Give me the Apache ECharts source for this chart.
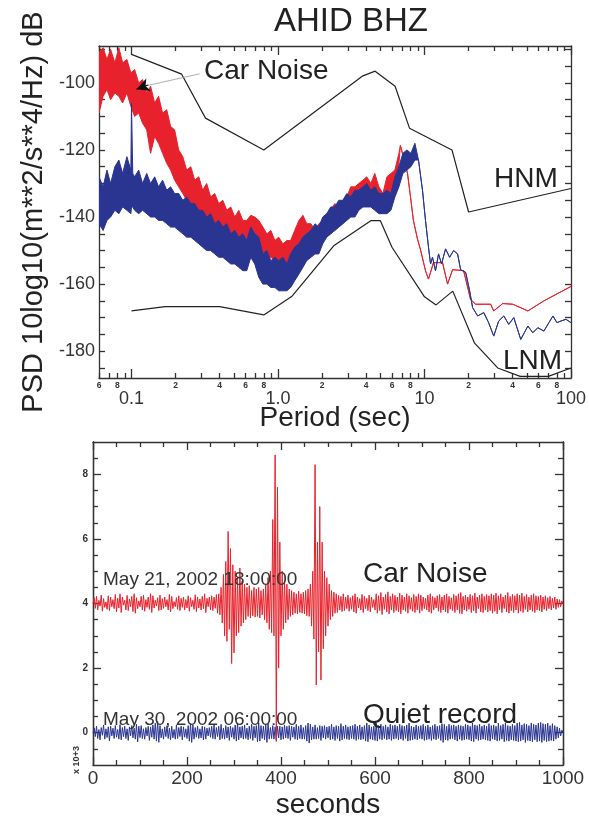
<!DOCTYPE html>
<html><head><meta charset="utf-8">
<script src="https://cdn.jsdelivr.net/npm/echarts@6/dist/echarts.min.js"></script>
<style>html,body{margin:0;padding:0;background:#fff}#c{width:589px;height:820px}</style>
</head><body><div id="c"></div>
<script>
// ---------- PSD panel data (period in s, PSD in dB) ----------
const hnmPeriod = [0.1, 0.22, 0.32, 0.8, 3.8, 4.6, 6.3, 7.9, 15.4, 20, 100];
const hnmDb = [-91.5, -97.4, -110.5, -120, -97.9, -96.5, -101, -113.5, -120, -138.5, -131.5];
const lnmPeriod = [0.1, 0.17, 0.4, 0.8, 1.24, 2.4, 4.3, 5.0, 6.0, 10, 12, 15.6, 21.9, 31.6, 45, 70, 100];
const lnmDb = [-168, -166.7, -166.7, -169.2, -163.7, -148.6, -141.1, -141.1, -149, -163.8, -166.2, -162.1, -177.5, -185, -187.5, -187.5, -185];

// Car noise (red): noisy band (upper / lower edge) then a single line
const redBandPeriod = [0.060,0.064,0.068,0.072,0.077,0.082,0.087,0.093,0.099,0.105,
  0.112,0.119,0.127,0.135,0.144,0.153,0.163,0.174,0.185,0.197,
  0.21,0.224,0.238,0.254,0.27,0.288,0.306,0.326,0.347,0.37,
  0.394,0.42,0.447,0.476,0.507,0.54,0.575,0.612,0.652,0.694,
  0.74,0.788,0.839,0.894,0.952,1.01,1.08,1.15,1.22,1.3,
  1.39,1.48,1.57,1.68,1.79,1.9,2.02,2.15,2.29,2.44,
  2.6,2.77,2.95,3.14,3.35,3.56,3.8,4.04,4.3,4.58,
  4.88,5.2,5.54,5.9,6.28,6.69];
const redBandHi = [-91,-89.5,-93,-90,-94,-89.5,-94,-93,-97,-96,
  -100,-99,-103,-101,-106,-104,-109,-108,-113,-114,
  -120,-122,-126,-125,-129,-128,-132,-130,-134,-133,
  -136,-135,-138,-137,-140,-138,-141,-141,-139.5,-140,
  -141,-143,-145,-144,-147,-146,-148,-147,-147,-144,
  -141,-139.5,-142,-142,-144,-142,-141,-139,-138,-136,
  -137,-135,-134,-131,-131,-130,-129,-128,-130,-127,
  -131,-133,-128,-127,-126,-121];
const redBandLo = [-109,-104,-102,-105,-103,-104,-106,-103,-107,-110,
  -109,-112,-114,-121,-116,-118,-121,-124,-126,-129,
  -131,-133,-135,-136,-137,-139,-140,-141,-142,-144,
  -145,-145,-146,-147,-147,-148,-148,-149,-148,-148,
  -149,-151,-152,-152,-153,-153,-154,-154,-153,-152,
  -150,-148,-149,-149,-149,-148,-147,-146,-145,-144,
  -143,-142,-140,-139,-138,-137,-136,-136,-136,-135,
  -136,-137,-134,-133,-131,-124];
const redTailPeriod = [6.85,7.17,7.66,8.0,8.4,8.95,9.4,10.16,10.65,11.52,13.28,14.37,15.55,18.5,20.65,22.35,28.3,29.7,34.2,40.1,50.8,65.3,100];
const redTailDb = [-118.7,-122,-127,-133.5,-141,-146.5,-149.8,-156,-158.5,-153.6,-153.6,-160,-155.7,-156,-164.6,-166,-166,-168,-165.8,-166,-168,-165,-160.7];

// Quiet record (blue)
const blueBandPeriod = [0.060,0.064,0.068,0.072,0.077,0.082,0.087,0.093,0.099,0.100,0.102,0.105,
  0.112,0.119,0.127,0.135,0.144,0.153,0.163,0.174,0.185,0.197,
  0.21,0.224,0.238,0.254,0.27,0.288,0.306,0.326,0.347,0.37,
  0.394,0.42,0.447,0.476,0.507,0.54,0.575,0.612,0.652,0.694,
  0.74,0.788,0.839,0.894,0.952,1.01,1.08,1.15,1.22,1.3,
  1.39,1.48,1.57,1.68,1.79,1.9,2.02,2.15,2.29,2.44,
  2.6,2.77,2.95,3.14,3.35,3.56,3.8,4.04,4.3,4.58,
  4.88,5.2,5.54,5.9,6.28,6.69,7.12,7.59,8.08,8.6];
const blueBandHi = [-128,-131,-126,-130,-125,-123,-127,-122,-126,-106,-127,-128,
  -126,-130,-127,-130,-128,-131,-129,-132,-131,-133,
  -133,-135,-134,-136,-136,-138,-138,-140,-139,-142,
  -141,-143,-142,-145,-144,-146,-145,-147,-143,-145,
  -146,-151,-150,-153,-152,-153,-152,-154,-151,-149,
  -148,-146,-145,-144,-142,-143,-140,-139,-137,-137,
  -135,-135,-133,-134,-132,-132,-131,-130,-132,-131,
  -133,-133,-132,-133,-128,-125,-121,-120,-121,-118];
const blueBandLo = [-142,-144,-141,-140,-138,-139,-137,-138,-139,-137,-137,-138,
  -139,-138,-139,-140,-140,-141,-141,-142,-143,-143,
  -144,-145,-146,-146,-147,-148,-149,-150,-150,-151,
  -152,-152,-153,-154,-154,-155,-156,-156,-152,-154,
  -158,-160,-160,-161,-161,-162,-162,-162,-161,-159,
  -157,-155,-153,-152,-151,-151,-148,-146,-145,-144,
  -143,-142,-141,-140,-140,-138,-137,-137,-137,-138,
  -139,-139,-139,-138,-134,-131,-127,-126,-125,-123];
const blueTailPeriod = [9.1,9.69,10.16,10.65,11.0,11.34,11.89,12.47,13.07,13.93,14.84,15.8,16.83,17.64,19.1,20.33,21.3,23.07,25.4,27.4,29.7,32.1,34.8,37.6,40.7,45.4,50.8,54.9,59.4,65.3,70.7,75.3,80.2,85.4,92.4,100];
const blueTailDb = [-123,-132,-141,-149,-154,-152,-156,-151,-154,-149.5,-152,-150,-151,-155.7,-156.5,-162,-167,-169.5,-168.5,-171.5,-175.5,-171,-169.5,-172,-170,-176.5,-172.5,-174.5,-173,-174,-171.5,-169.5,-171.5,-171,-170.5,-171.5];

// Period axis ticks / labels
const periodMajor = [0.1, 1, 10, 100];
const periodMajorLabels = ['0.1', '1.0', '10', '100'];
const periodMinorLabeled = [0.06,0.08,0.2,0.4,0.6,0.8,2,4,6,8,20,40,60,80];
const periodMinorTicks = [0.06,0.07,0.08,0.09,0.2,0.3,0.4,0.5,0.6,0.7,0.8,0.9,2,3,4,5,6,7,8,9,20,30,40,50,60,70,80,90];
const psdLabels = [-180,-160,-140,-120,-100];
const psdTicks = [-185,-180,-175,-170,-165,-160,-155,-150,-145,-140,-135,-130,-125,-120,-115,-110,-105,-100,-95,-90];

// ---------- Seismogram panel (x 10^3 counts), one sample every 2.5 s ----------
const sampleStepSec = 2.5;
const carNoise = [
  4.0,4.18,3.85,4.22,3.8,4.1,3.92,4.26,3.76,4.15,3.88,4.05,3.82,4.24,3.78,4.2,3.9,4.12,3.84,4.28,
  3.74,4.16,3.86,4.3,3.72,4.2,3.95,4.1,3.8,4.25,3.78,4.14,3.9,4.22,3.75,4.3,3.7,4.18,3.84,4.08,
  3.9,4.22,3.8,4.26,3.76,4.12,3.88,4.2,3.82,4.3,3.72,4.24,3.86,4.1,3.92,4.18,3.78,4.26,3.8,4.15,
  3.85,4.2,3.9,4.12,3.8,4.28,3.74,4.22,3.84,4.06,3.9,4.18,3.82,4.24,3.78,4.16,3.88,4.2,3.8,4.12,
  3.86,4.24,3.76,4.18,3.9,4.1,3.82,4.27,3.75,4.2,3.86,4.14,3.8,4.22,3.84,4.3,3.72,4.16,3.9,4.2,
  3.8,4.24,3.78,4.2,3.85,4.28,3.7,4.3,3.65,4.5,3.4,4.9,3.0,5.3,2.83,6.23,3.2,5.7,2.14,5.2,
  2.47,5.0,3.0,4.8,3.1,5.1,3.3,4.7,3.4,4.6,3.5,4.5,3.6,4.55,3.55,4.4,3.62,4.5,3.58,4.45,
  3.6,4.5,3.55,4.4,3.65,4.45,3.5,4.6,3.4,4.8,3.2,5.0,3.1,6.6,3.0,8.6,-0.27,7.6,2.0,5.9,
  3.0,5.0,3.2,4.7,3.4,4.6,3.5,4.45,3.6,4.4,3.65,4.35,3.7,4.3,3.68,4.38,3.72,4.3,3.7,4.35,
  3.68,4.4,3.62,4.45,3.6,4.6,3.3,5.0,2.9,8.3,1.48,5.9,2.5,7.0,1.63,5.9,2.6,5.0,3.0,4.8,
  3.3,4.6,3.5,4.4,3.6,4.35,3.7,4.3,3.72,4.25,3.8,4.22,3.75,4.3,3.78,4.2,3.84,4.26,3.76,4.18,
  3.82,4.24,3.74,4.3,3.7,4.2,3.86,4.15,3.8,4.28,3.72,4.22,3.84,4.16,3.78,4.26,3.74,4.2,3.88,4.12,
  3.8,4.3,3.7,4.24,3.78,4.34,3.66,4.2,3.82,4.28,3.74,4.36,3.68,4.22,3.8,4.3,3.72,4.25,3.78,4.2,
  3.74,4.32,3.68,4.26,3.8,4.2,3.76,4.3,3.7,4.24,3.82,4.18,3.76,4.28,3.72,4.22,3.8,4.3,3.7,4.26,
  3.78,4.2,3.84,4.16,3.8,4.26,3.74,4.3,3.7,4.22,3.8,4.18,3.86,4.24,3.76,4.28,3.72,4.2,3.8,4.26,
  3.74,4.3,3.7,4.22,3.82,4.18,3.78,4.28,3.72,4.24,3.8,4.3,3.7,4.34,3.68,4.22,3.8,4.26,3.76,4.2,
  3.82,4.28,3.72,4.24,3.78,4.32,3.7,4.2,3.84,4.26,3.74,4.3,3.72,4.22,3.8,4.28,3.74,4.24,3.78,4.3,
  3.7,4.26,3.76,4.32,3.68,4.24,3.8,4.3,3.72,4.2,3.84,4.26,3.74,4.34,3.7,4.22,3.78,4.28,3.72,4.24,
  3.8,4.3,3.7,4.26,3.76,4.32,3.72,4.22,3.82,4.28,3.74,4.2,3.8,4.26,3.76,4.3,3.72,4.24,3.8,4.22,
  3.78,4.26,3.74,4.2,3.82,4.24,3.78,4.18,3.84,4.22,3.8,4.16,3.86,4.2,3.82,4.14,3.88,4.12,3.9,4.08,
  4.0];
const quietRecord = [
  0.0,0.15,-0.12,0.2,-0.18,0.1,-0.22,0.16,-0.08,0.24,-0.2,0.12,-0.15,0.18,-0.25,0.2,-0.1,0.14,-0.18,0.22,
  -0.14,0.1,-0.2,0.25,-0.22,0.16,-0.12,0.2,-0.18,0.12,-0.24,0.18,-0.1,0.22,-0.16,0.14,-0.2,0.26,-0.28,0.2,
  -0.15,0.22,-0.18,0.12,-0.2,0.16,-0.1,0.2,-0.24,0.18,-0.14,0.24,-0.2,0.3,-0.26,0.35,-0.3,0.22,-0.16,0.12,
  -0.2,0.18,-0.12,0.22,-0.18,0.14,-0.22,0.2,-0.16,0.1,-0.2,0.24,-0.18,0.16,-0.12,0.2,-0.22,0.18,-0.14,0.12,
  -0.18,0.22,-0.26,0.28,-0.3,0.24,-0.2,0.16,-0.14,0.2,-0.18,0.12,-0.16,0.2,-0.22,0.18,-0.2,0.14,-0.1,0.16,
  -0.14,0.2,-0.18,0.24,-0.2,0.16,-0.12,0.2,-0.22,0.26,-0.18,0.14,-0.2,0.22,-0.16,0.18,-0.24,0.2,-0.14,0.16,
  -0.2,0.24,-0.26,0.3,-0.22,0.18,-0.16,0.2,-0.2,0.24,-0.18,0.14,-0.22,0.2,-0.18,0.26,-0.24,0.2,-0.16,0.22,
  -0.28,0.32,-0.26,0.22,-0.18,0.2,-0.22,0.26,-0.3,0.28,-0.2,0.16,-0.18,0.22,-0.2,0.18,-0.24,0.2,-0.16,0.2,
  -0.22,0.18,-0.2,0.24,-0.16,0.2,-0.18,0.22,-0.24,0.2,-0.14,0.18,-0.2,0.26,-0.22,0.2,-0.18,0.24,-0.2,0.16,
  -0.2,0.22,-0.26,0.3,-0.32,0.26,-0.22,0.18,-0.2,0.24,-0.2,0.16,-0.18,0.22,-0.24,0.2,-0.16,0.22,-0.2,0.18,
  -0.16,0.2,-0.22,0.26,-0.2,0.18,-0.24,0.22,-0.18,0.2,-0.26,0.28,-0.22,0.2,-0.18,0.24,-0.2,0.18,-0.22,0.2,
  -0.18,0.22,-0.2,0.26,-0.24,0.2,-0.2,0.24,-0.22,0.18,-0.2,0.22,-0.26,0.3,-0.28,0.24,-0.2,0.18,-0.22,0.2,
  -0.24,0.3,-0.26,0.22,-0.2,0.26,-0.22,0.2,-0.18,0.24,-0.22,0.18,-0.2,0.26,-0.24,0.22,-0.2,0.24,-0.18,0.2,
  -0.22,0.26,-0.2,0.22,-0.24,0.2,-0.18,0.24,-0.26,0.3,-0.24,0.2,-0.22,0.18,-0.2,0.24,-0.22,0.2,-0.18,0.22,
  -0.2,0.26,-0.24,0.2,-0.22,0.24,-0.2,0.18,-0.24,0.22,-0.2,0.26,-0.22,0.2,-0.18,0.22,-0.24,0.28,-0.3,0.26,
  -0.22,0.2,-0.24,0.26,-0.2,0.22,-0.18,0.24,-0.22,0.2,-0.26,0.24,-0.2,0.22,-0.24,0.2,-0.22,0.26,-0.2,0.24,
  -0.22,0.2,-0.26,0.3,-0.28,0.24,-0.2,0.22,-0.24,0.26,-0.22,0.2,-0.2,0.24,-0.22,0.2,-0.24,0.28,-0.26,0.22,
  -0.2,0.24,-0.22,0.2,-0.26,0.3,-0.24,0.22,-0.2,0.26,-0.28,0.3,-0.24,0.22,-0.26,0.2,-0.22,0.26,-0.24,0.22,
  -0.26,0.3,-0.28,0.32,-0.26,0.24,-0.22,0.28,-0.3,0.26,-0.24,0.22,-0.26,0.3,-0.28,0.26,-0.22,0.24,-0.28,0.3,
  -0.26,0.32,-0.3,0.28,-0.24,0.26,-0.28,0.3,-0.26,0.22,-0.24,0.28,-0.26,0.22,-0.2,0.18,-0.16,0.14,-0.1,0.08,
  0.0];
const seisLabels = [0, 2, 4, 6, 8];
const seisMinorTicks = [-0.5,0.5,1,1.5,2.5,3,3.5,4.5,5,5.5,6.5,7,7.5,8.5];

// ---------- build ----------
const FONT = '"Liberation Sans", Arial, Helvetica, sans-serif';
const RED = '#E8222C', BLUE = '#2A3592', INK = '#222';
const L = Math.log10;
const AX = { color: '#333', width: 1.3 };

function bandSeries(name, bp, hi, lo, tp, tdb, color) {
  return {
    name, type: 'custom', xAxisIndex: 0, yAxisIndex: 0, clip: true, silent: true,
    data: [[L(bp[0]), hi[0]]],
    renderItem: function (params, api) {
      const pts = [];
      for (let i = 0; i < bp.length; i++) pts.push(api.coord([L(bp[i]), hi[i]]));
      for (let i = 0; i < tp.length; i++) pts.push(api.coord([L(tp[i]), tdb[i]]));
      for (let i = tp.length - 1; i >= 0; i--) pts.push(api.coord([L(tp[i]), tdb[i]]));
      for (let i = bp.length - 1; i >= 0; i--) pts.push(api.coord([L(bp[i]), lo[i]]));
      return { type: 'polygon', shape: { points: pts }, style: { fill: color, stroke: color, lineWidth: 1 } };
    }
  };
}

const noLabel = { show: false };
const xMin = L(0.06), xMax = L(100);
function periodAxis(pos, ticks, len, labels, labelFmt, fs, margin, showLine) {
  return {
    type: 'value', gridIndex: 0, position: pos, min: xMin, max: xMax,
    axisLine: { show: showLine, onZero: false, lineStyle: AX },
    axisTick: { show: true, inside: true, length: len, customValues: ticks.map(L), lineStyle: AX },
    axisLabel: labels ? { customValues: labels.map(L), formatter: labelFmt, fontSize: fs, color: '#333', margin: margin, fontFamily: FONT, fontWeight: fs < 10 ? 'bold' : 'normal' } : noLabel,
    splitLine: { show: false }
  };
}
const minorFmt = v => String(Math.round(Math.pow(10, v - Math.floor(v + 1e-9))));
const majorFmt = v => periodMajorLabels[periodMajor.findIndex(p => Math.abs(L(p) - v) < 1e-6)];

const xAxes = [
  Object.assign(periodAxis('bottom', periodMinorTicks, 5, periodMinorLabeled, minorFmt, 8.5, 3, true), {
    name: 'Period (sec)', nameLocation: 'middle', nameGap: 26,
    nameTextStyle: { fontSize: 28, color: INK, fontFamily: FONT }
  }),
  periodAxis('bottom', periodMajor, 9, periodMajor, majorFmt, 18, 12, false),
  periodAxis('top', periodMinorTicks, 5, null, null, 0, 0, true),
  periodAxis('top', periodMajor, 9, null, null, 0, 0, false),
  {
    type: 'value', gridIndex: 1, position: 'bottom', min: 0, max: 1000, interval: 200,
    axisLine: { onZero: false, lineStyle: AX },
    axisTick: { inside: true, length: 8, lineStyle: AX },
    minorTick: { show: true, splitNumber: 4, length: 5, lineStyle: AX },
    axisLabel: { fontSize: 19, color: '#333', margin: 4, fontFamily: FONT, formatter: v => String(v) },
    splitLine: { show: false },
    name: 'seconds', nameLocation: 'middle', nameGap: 26,
    nameTextStyle: { fontSize: 28, color: INK, fontFamily: FONT }
  },
  {
    type: 'value', gridIndex: 1, position: 'top', min: 0, max: 1000, interval: 200,
    axisLine: { onZero: false, lineStyle: AX },
    axisTick: { inside: true, length: 8, lineStyle: AX },
    minorTick: { show: true, splitNumber: 4, length: 5, lineStyle: AX },
    axisLabel: noLabel, splitLine: { show: false }
  }
];

function yAx(grid, pos, min, max, ticks, len, labels, fs, extra) {
  return Object.assign({
    type: 'value', gridIndex: grid, position: pos, min, max,
    axisLine: { show: true, onZero: false, lineStyle: AX },
    axisTick: { show: true, inside: true, length: len, customValues: ticks, lineStyle: AX },
    axisLabel: labels ? { customValues: labels, fontSize: fs, color: '#333', margin: grid === 0 ? 4 : 5, fontFamily: FONT, fontWeight: fs < 12 ? 'bold' : 'normal' } : noLabel,
    splitLine: { show: false }
  }, extra || {});
}
const yAxes = [
  yAx(0, 'left', -188, -89, psdTicks, 6, psdLabels, 18, {
    name: 'PSD 10log10(m**2/s**4/Hz) dB', nameLocation: 'middle', nameRotate: 90, nameGap: 42,
    nameTextStyle: { fontSize: 29, color: INK, fontFamily: FONT }
  }),
  yAx(0, 'right', -188, -89, psdTicks, 6, null, 0),
  yAx(1, 'left', -1, 9, seisLabels, 8, seisLabels, 10),
  yAx(1, 'left', -1, 9, seisMinorTicks, 5, null, 0),
  yAx(1, 'right', -1, 9, seisLabels, 8, null, 0),
  yAx(1, 'right', -1, 9, seisMinorTicks, 5, null, 0)
];

const seriesList = [
  bandSeries('Car Noise PSD', redBandPeriod, redBandHi, redBandLo, redTailPeriod, redTailDb, RED),
  bandSeries('Quiet PSD', blueBandPeriod, blueBandHi, blueBandLo, blueTailPeriod, blueTailDb, BLUE),
  {
    name: 'HNM', type: 'line', xAxisIndex: 0, yAxisIndex: 0, symbol: 'none', silent: true,
    data: hnmPeriod.map((p, i) => [L(p), hnmDb[i]]),
    lineStyle: { color: INK, width: 1.2 },
    markLine: {
      silent: true, symbol: ['none', 'none'], label: { show: false }, animation: false,
      lineStyle: { color: '#9a9a9a', width: 0.8, type: 'solid' },
      data: [
        [{ coord: [L(0.292), -97.3] }, { coord: [L(0.122), -101.0] }],
        [{ coord: [L(0.13), -100.6], lineStyle: { color: '#111', width: 1, type: 'solid' }, symbol: 'none' },
         { coord: [L(0.108), -101.9], symbol: 'arrow', symbolSize: [10, 13] }]
      ]
    }
  },
  {
    name: 'LNM', type: 'line', xAxisIndex: 0, yAxisIndex: 0, symbol: 'none', silent: true,
    data: lnmPeriod.map((p, i) => [L(p), lnmDb[i]]),
    lineStyle: { color: INK, width: 1.2 }
  },
  {
    name: 'Quiet record', type: 'line', xAxisIndex: 4, yAxisIndex: 2, symbol: 'none', silent: true,
    data: quietRecord.map((v, i) => [i * sampleStepSec, v]),
    lineStyle: { color: BLUE, width: 1 }
  },
  {
    name: 'Car Noise', type: 'line', xAxisIndex: 4, yAxisIndex: 2, symbol: 'none', silent: true,
    data: carNoise.map((v, i) => [i * sampleStepSec, v]),
    lineStyle: { color: RED, width: 1 }
  }
];

function txt(x, y, text, size, opts) {
  return Object.assign({
    type: 'text', x, y, z: 100,
    style: Object.assign({ text, fontSize: size, fontFamily: FONT, fill: INK, align: 'left', verticalAlign: 'middle' }, (opts && opts.style) || {})
  }, (opts && opts.el) || {});
}

const option = {
  animation: false,
  backgroundColor: '#fff',
  grid: [
    { left: 99, top: 46, width: 472, height: 332, containLabel: false },
    { left: 93, top: 442, width: 470, height: 331, containLabel: false }
  ],
  xAxis: xAxes,
  yAxis: yAxes,
  series: seriesList,
  graphic: [
    txt(351, 22, 'AHID BHZ', 33, { style: { align: 'center' } }),
    txt(204, 71, 'Car Noise', 28),
    txt(494, 179, 'HNM', 28),
    txt(503, 361, 'LNM', 28),
    txt(103, 580, 'May 21, 2002 18:00:00', 19, { style: { fill: '#333' } }),
    txt(363, 574, 'Car Noise', 28),
    txt(103, 720, 'May 30, 2002 06:00:00', 19, { style: { fill: '#333' } }),
    txt(363, 715, 'Quiet record', 28),
    txt(77, 760, 'x 10+3', 9, { style: { align: 'center', fill: '#333', fontWeight: 'bold' }, el: { rotation: Math.PI / 2 } })
  ]
};

const chart = echarts.init(document.getElementById('c'), null, { renderer: 'canvas' });
chart.setOption(option);
</script>
</body></html>
